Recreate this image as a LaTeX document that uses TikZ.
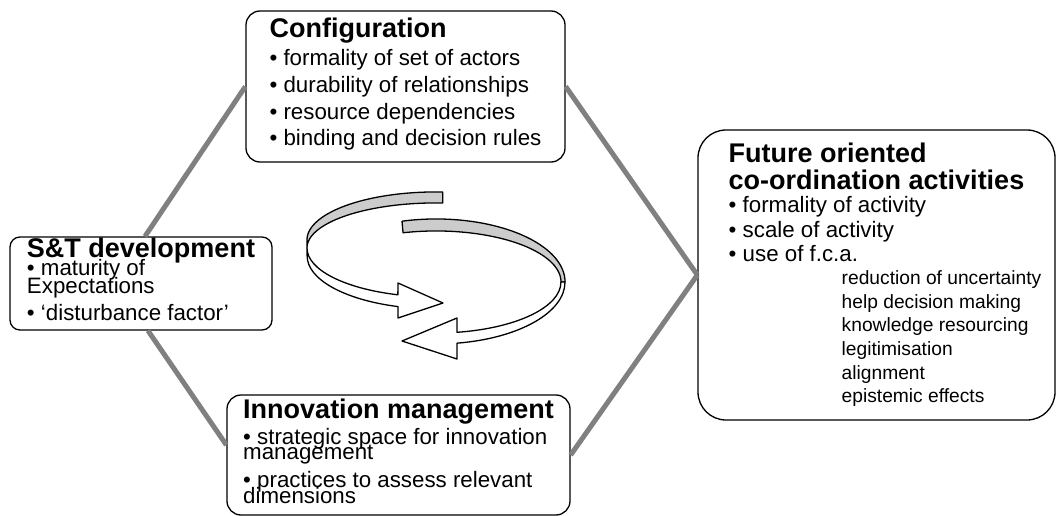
\documentclass[tikz,border=0pt]{standalone}
\usepackage{fontspec}
\setmainfont{Liberation Sans}
\usetikzlibrary{positioning}

\newcommand{\headfont}{\fontsize{27pt}{27pt}\selectfont\bfseries}
\newcommand{\fcaline}[1]{\hspace*{113pt}\rlap{\fontsize{19.2pt}{24pt}\selectfont #1}}

\begin{document}
\begin{tikzpicture}[x=1pt,y=-1pt,
    box/.style={draw,line width=1.3pt,fill=white,align=left,inner xsep=0pt,inner ysep=0pt},
    link/.style={draw=gray,line width=5pt},
    back/.style={draw,line width=1.3pt,fill=gray!40,line join=round},
    front/.style={draw,line width=1.3pt,fill=white,line join=round}]
\useasboundingbox (0,0) rectangle (1058,516);

% the four boxes
\node[box,rounded corners=14pt,minimum width=319pt,minimum height=151pt,
      font=\fontsize{22.3pt}{26.7pt}\selectfont] (Conf) at (405.5,86.5)
  {{\headfont Configuration}\\[1.3pt]
   • formality of set of actors\\
   • durability of relationships\\
   • resource dependencies\\
   • binding and decision rules\rule[-9pt]{0pt}{0pt}};

\node[box,rounded corners=10pt,minimum width=262pt,minimum height=93pt,
      font=\fontsize{22.3pt}{26.7pt}\selectfont] (ST) at (141,283.5)
  {{\headfont S\&T development}\\[-8.2pt]
   • maturity of\\[-8.7pt]
   Expectations\\
   • ‘disturbance factor’\rule[-9pt]{0pt}{0pt}};

\node[box,rounded corners=14pt,minimum width=343pt,minimum height=120pt,
      font=\fontsize{22.3pt}{26.7pt}\selectfont] (Innov) at (398.5,455)
  {{\headfont Innovation management}\\[-0.7pt]
   • strategic space for innovation\\[-11.2pt]
   management\\[1.3pt]
   • practices to assess relevant\\[-11.2pt]
   dimensions\rule[-8pt]{0pt}{0pt}};

\node[box,rounded corners=28pt,minimum width=357pt,minimum height=290pt,
      font=\fontsize{22.3pt}{23.6pt}\selectfont] (Fut) at (876.5,275)
  {{\headfont Future oriented}\\[3.4pt]
   {\headfont co-ordination activities}\\[-0.6pt]
   • formality of activity\\[1.4pt]
   • scale of activity\\[0.4pt]
   • use of f.c.a.\\[-0.6pt]
   \fcaline{reduction of uncertainty}\\
   \fcaline{help decision making}\\
   \fcaline{knowledge resourcing}\\
   \fcaline{legitimisation}\\
   \fcaline{alignment}\\
   \fcaline{epistemic effects}\rule[-2pt]{0pt}{0pt}};

% grey connectors
\path[link]
  (Conf.west) edge ([xshift=4pt]ST.north)
  ([xshift=7pt]ST.south) edge ([yshift=10pt]Innov.west)
  (Conf.east) edge (Fut.west)
  (Innov.east) edge (Fut.west);

% cycle of two ribbon arrows
\draw[back] (442.7,192) arc[start angle=-87,end angle=-180,x radius=129,y radius=48]
  -- ++(0,8) arc[start angle=180,end angle=273,x radius=129,y radius=45] -- cycle;
\draw[front] (307,248) arc[start angle=180,end angle=107.2,x radius=129,y radius=49]
  -- (398,283) -- (443,303) -- (398,318) -- (398,306.6)
  arc[start angle=107.2,end angle=180,x radius=129,y radius=53] -- cycle;
\draw[back] (402,221.2) arc[start angle=-105.3,end angle=0,x radius=129,y radius=63]
  -- ++(-4,0) arc[start angle=0,end angle=-105.3,x radius=125,y radius=51] -- cycle;
\draw[front] (565,282) arc[start angle=0,end angle=80.6,x radius=129,y radius=62]
  -- (457,359) -- (402,341) -- (457,318) -- (457,332.3)
  arc[start angle=80.3,end angle=0,x radius=125,y radius=51] -- cycle;
\end{tikzpicture}
\end{document}
